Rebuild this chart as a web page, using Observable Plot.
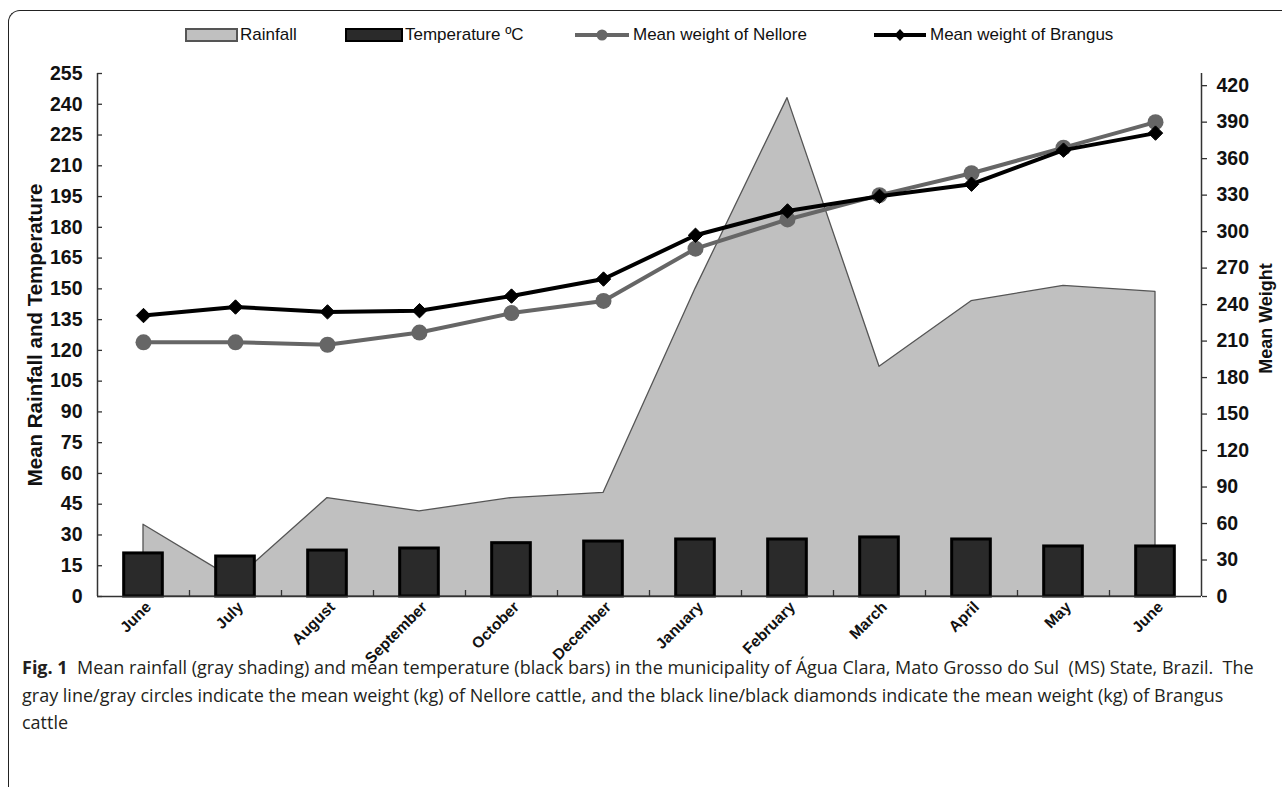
<!DOCTYPE html>
<html>
<head>
<meta charset="utf-8">
<script src="https://cdn.jsdelivr.net/npm/d3@7"></script>
<script src="https://cdn.jsdelivr.net/npm/@observablehq/plot@0.6"></script>
<style>
  html, body { margin: 0; padding: 0; background: #fff; }
  #wrap { position: relative; width: 1282px; height: 787px; overflow: hidden; font-family: "Liberation Sans", Arial, sans-serif; }
  #frame { position: absolute; left: 8px; top: 10px; width: 1300px; height: 820px; border-top: 1.5px solid #222; border-left: 1.5px solid #222; border-top-left-radius: 12px; }
  #chart { position: absolute; left: 0; top: 55px; }
  #chart svg { overflow: visible; background: transparent; }
  #legend { position: absolute; top: 24px; left: 0; width: 1282px; height: 22px; font-size: 17px; color: #111; }
  .li { position: absolute; top: 0; display: flex; align-items: center; height: 22px; white-space: nowrap; }
  .ytitle { position: absolute; font-weight: bold; color: #111; white-space: nowrap; transform-origin: center center; }
  #ylab { font-size: 20.5px; }
  #y2lab { font-size: 18px; }
  #caption { position: absolute; left: 22px; top: 654px; font-family: "Open Sans", sans-serif; font-size: 18px; line-height: 27.5px; color: #231f20; white-space: nowrap; letter-spacing: 0px; }
  #caption b { font-weight: 700; }
</style>
</head>
<body>
<div id="wrap">
  <div id="frame"></div>
  <div id="chart"></div>
  <div id="legend"></div>
  <div class="ytitle" id="ylab">Mean Rainfall and Temperature</div>
  <div class="ytitle" id="y2lab">Mean Weight</div>
  <div id="caption"><b>Fig. 1</b>&nbsp; Mean rainfall (gray shading) and mean temperature (black bars) in the municipality of Água Clara, Mato Grosso do Sul&nbsp; (MS) State, Brazil.&nbsp; The<br>gray line/gray circles indicate the mean weight (kg) of Nellore cattle, and the black line/black diamonds indicate the mean weight (kg) of Brangus<br>cattle</div>
</div>
<script>
const months = ["June","July","August","September","October","December","January","February","March","April","May","June"];
const rainfall = [35, 8, 48, 41.5, 48, 50.5, 150, 243, 112, 144, 151.5, 148.5];
const temperature = [21, 19.5, 22.4, 23.4, 26, 26.8, 27.8, 27.8, 28.8, 27.8, 24.4, 24.4];
const nellore = [209, 209, 207, 217, 233, 243, 286, 310, 330, 348, 369, 390];
const brangus = [231, 238, 234, 235, 247, 261, 297, 317, 329, 339, 367, 381];
const leftTicks = d3.range(0, 256, 15);
const rightTicks = d3.range(0, 421, 30);
const leftMax = 255, rightMax = 430;

const k = leftMax / rightMax;
const data = months.map((m, i) => ({i, month: m, rainfall: rainfall[i], temperature: temperature[i], nellore: nellore[i], brangus: brangus[i]}));
const boundaries = d3.range(0.5, 11, 1);
const halfBar = 0.21;

const chart = Plot.plot({
  width: 1282,
  height: 620,
  marginTop: 18,
  marginBottom: 79,
  marginLeft: 97,
  marginRight: 81,
  style: {background: "transparent", fontFamily: "'Liberation Sans', Arial, sans-serif", overflow: "visible"},
  x: {domain: [-0.5, 11.5], axis: null},
  y: {domain: [0, leftMax], axis: null},
  marks: [
    Plot.areaY(data, {x: "i", y: "rainfall", fill: "#c0c0c0", stroke: "#555", strokeWidth: 1.3}),
    Plot.rectY(data, {x1: d => d.i - halfBar, x2: d => d.i + halfBar, y1: 0, y2: "temperature", fill: "#2a2a2a", stroke: "#000", strokeWidth: 3}),
    Plot.line(data, {x: "i", y: d => d.nellore * k, stroke: "#666", strokeWidth: 4}),
    Plot.dot(data, {x: "i", y: d => d.nellore * k, r: 8, fill: "#666", stroke: "none"}),
    Plot.line(data, {x: "i", y: d => d.brangus * k, stroke: "#000", strokeWidth: 4}),
    Plot.dot(data, {x: "i", y: d => d.brangus * k, symbol: "diamond2", r: 6.5, fill: "#000", stroke: "#000", strokeWidth: 1}),
    // axis lines
    Plot.ruleX([-0.5], {y1: 0, y2: leftMax, stroke: "#333", strokeWidth: 1.5}),
    Plot.ruleX([11.5], {y1: 0, y2: leftMax, stroke: "#333", strokeWidth: 1.5}),
    Plot.ruleY([0], {x1: -0.5, x2: 11.5, stroke: "#333", strokeWidth: 1.5}),
    // left axis
    Plot.axisY({anchor: "left", ticks: leftTicks, tickSize: 5, dx: 5, tickPadding: 15, fontSize: 19.5, fontWeight: "bold", stroke: "#333", strokeWidth: 1.3, label: null, fill: "#111"}),
    // right axis
    Plot.axisY({anchor: "right", ticks: rightTicks.map(v => v * k), tickFormat: d => String(Math.round(d / k)), tickSize: 5, tickPadding: 10, fontSize: 19.5, fontWeight: "bold", stroke: "#333", strokeWidth: 1.3, label: null, fill: "#111"}),
    // category boundary ticks
    Plot.axisX({anchor: "bottom", ticks: boundaries, tickSize: 6, dy: -6, tickFormat: () => "", stroke: "#333", strokeWidth: 1.3, label: null}),
    // month labels
    Plot.text(data, {x: "i", y: 0, text: "month", rotate: -45, textAnchor: "end", dx: 5, dy: 8, fontSize: 15.5, fontWeight: "bold", fill: "#111"})
  ]
});
document.getElementById("chart").appendChild(chart);

// legend
const legend = d3.select("#legend");
const items = [
  {label: "Rainfall", left: 185, kind: "rect", fill: "#c0c0c0", stroke: "#555", w: 51},
  {label: "Temperature ºC", left: 345, kind: "rect", fill: "#2a2a2a", stroke: "#000", w: 56},
  {label: "Mean weight of Nellore", left: 575, kind: "line", color: "#666", sym: "circle", w: 54},
  {label: "Mean weight of Brangus", left: 874, kind: "line", color: "#000", sym: "diamond", w: 52}
];
for (const it of items) {
  const div = legend.append("div").attr("class", "li").style("left", it.left + "px");
  const svg = div.append("svg").attr("width", it.w + 2).attr("height", 22).style("display", "block");
  if (it.kind === "rect") {
    svg.append("rect").attr("x", 1).attr("y", 5).attr("width", it.w).attr("height", 12)
      .attr("fill", it.fill).attr("stroke", it.stroke).attr("stroke-width", 2);
  } else {
    svg.append("line").attr("x1", 0).attr("x2", it.w).attr("y1", 11).attr("y2", 11)
      .attr("stroke", it.color).attr("stroke-width", 4);
    if (it.sym === "circle") svg.append("circle").attr("cx", it.w / 2).attr("cy", 11).attr("r", 5.5).attr("fill", it.color);
    else svg.append("path").attr("d", `M${it.w/2},5L${it.w/2+5.5},11L${it.w/2},17L${it.w/2-5.5},11Z`).attr("fill", it.color);
  }
  div.append("span").text(it.label).style("margin-left", "2px");
}

// axis titles
function placeRotated(id, cx, cy) {
  const el = document.getElementById(id);
  const r = el.getBoundingClientRect();
  el.style.left = (cx - r.width / 2) + "px";
  el.style.top = (cy - r.height / 2) + "px";
  el.style.transform = "rotate(-90deg)";
}
placeRotated("ylab", 35, 335);
placeRotated("y2lab", 1266, 318);
</script>
</body>
</html>
